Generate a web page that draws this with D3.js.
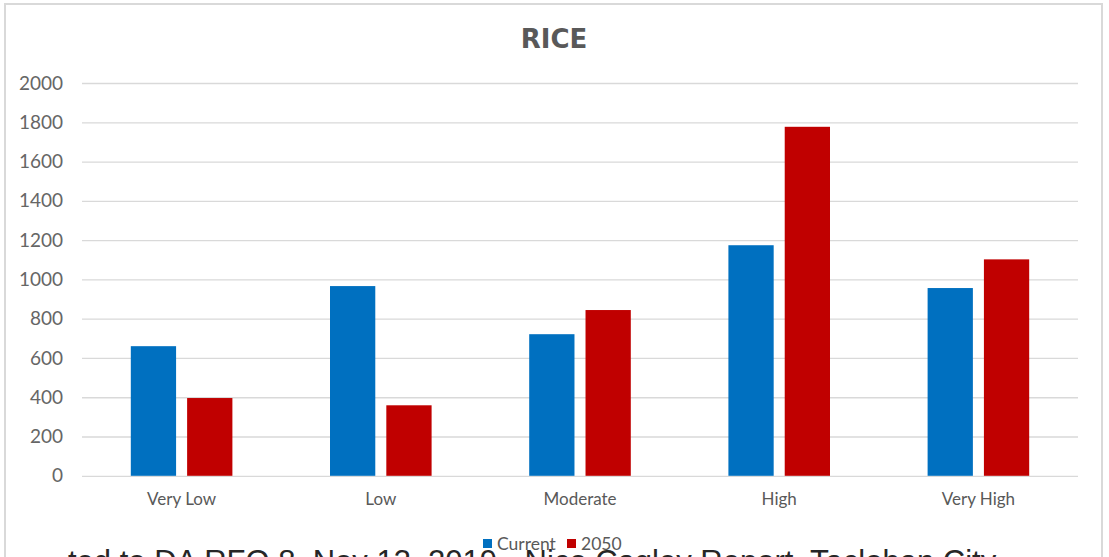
<!DOCTYPE html>
<html>
<head>
<meta charset="utf-8">
<script src="https://cdn.jsdelivr.net/npm/d3@7"></script>
<style>
  html, body { margin: 0; padding: 0; background: #fff; overflow: hidden; }
  svg { display: block; }
</style>
</head>
<body>
<svg id="chart" width="1109" height="557"></svg>
<script>
// Rice yield by climate-risk class, current vs 2050
const categories = ["Very Low", "Low", "Moderate", "High", "Very High"];
const seriesNames = ["Current", "2050"];
const currentValues = [660, 966, 721, 1174, 956];
const values2050 = [396, 359, 844, 1777, 1102];
const yTicks = [0, 200, 400, 600, 800, 1000, 1200, 1400, 1600, 1800, 2000];
const seriesColors = ["#0070C0", "#C00000"];
const chartTitle = "RICE";
const footerText = "ted to DA RFO 8, Nov 13, 2019 - Nico Cagley Report, Tacloban City";

const rows = categories.map((c, i) => ({
  category: c,
  values: [currentValues[i], values2050[i]]
}));

const svg = d3.select("#chart");

// Chart frame
svg.append("rect")
  .attr("x", 5).attr("y", 4)
  .attr("width", 1097).attr("height", 600)
  .attr("fill", "#fff")
  .attr("stroke", "#d9d9d9")
  .attr("stroke-width", 2);

const plot = { left: 82, right: 1078, top: 83, bottom: 475.8 };

const x0 = d3.scaleBand()
  .domain(categories)
  .range([plot.left, plot.right])
  .paddingInner(0.49)
  .paddingOuter(0.245);

const x1 = d3.scaleBand()
  .domain(seriesNames)
  .range([0, x0.bandwidth()])
  .paddingInner(0.196);

const y = d3.scaleLinear()
  .domain([0, 2000])
  .range([plot.bottom, plot.top]);

// Title
svg.append("text")
  .attr("x", 554).attr("y", 48)
  .attr("text-anchor", "middle")
  .attr("font-family", "'DejaVu Sans', sans-serif")
  .attr("font-weight", "bold")
  .attr("font-size", 26)
  .attr("fill", "#595959")
  .text(chartTitle);

// Gridlines and y labels
const yAxis = d3.axisLeft(y)
  .tickValues(yTicks)
  .tickSize(-(plot.right - plot.left))
  .tickPadding(19)
  .tickFormat(d3.format("d"));

const gy = svg.append("g")
  .attr("transform", `translate(${plot.left},0)`)
  .call(yAxis);
gy.select(".domain").remove();
gy.selectAll(".tick line")
  .attr("stroke", "#d9d9d9")
  .attr("stroke-width", 1.3);
gy.selectAll(".tick text")
  .attr("font-family", "Lato, sans-serif")
  .attr("font-size", 19)
  .attr("fill", "#666");

// Bars
const groups = svg.append("g")
  .selectAll("g")
  .data(rows)
  .join("g")
  .attr("transform", d => `translate(${x0(d.category)},0)`);

groups.selectAll("rect")
  .data(d => d.values.map((v, i) => ({ key: seriesNames[i], value: v, i })))
  .join("rect")
  .attr("x", d => x1(d.key))
  .attr("y", d => y(d.value))
  .attr("width", x1.bandwidth())
  .attr("height", d => y(0) - y(d.value))
  .attr("fill", d => seriesColors[d.i]);

// Category labels
const xAxis = d3.axisBottom(x0).tickSize(0).tickPadding(17);
const gx = svg.append("g")
  .attr("transform", `translate(0,${plot.bottom})`)
  .call(xAxis);
gx.select(".domain").remove();
gx.selectAll(".tick text")
  .attr("font-family", "Lato, sans-serif")
  .attr("font-size", 17)
  .attr("fill", "#595959");

// Footer caption
svg.append("text")
  .attr("x", 68).attr("y", 572)
  .attr("font-family", "'Liberation Sans', Arial, sans-serif")
  .attr("font-size", 31)
  .attr("fill", "#262626")
  .text(footerText);

// Legend
const legend = svg.append("g").attr("transform", "translate(483,544)");
const legendItems = legend.selectAll("g")
  .data(seriesNames)
  .join("g")
  .attr("transform", (d, i) => `translate(${i * 84},0)`);
legendItems.append("rect")
  .attr("x", 0).attr("y", -5)
  .attr("width", 9).attr("height", 9)
  .attr("fill", (d, i) => seriesColors[i]);
legendItems.append("text")
  .attr("x", 14).attr("y", 0)
  .attr("dy", "0.35em")
  .attr("font-family", "Lato, sans-serif")
  .attr("font-size", 17.5)
  .attr("fill", "#595959")
  .text(d => d);
</script>
</body>
</html>
